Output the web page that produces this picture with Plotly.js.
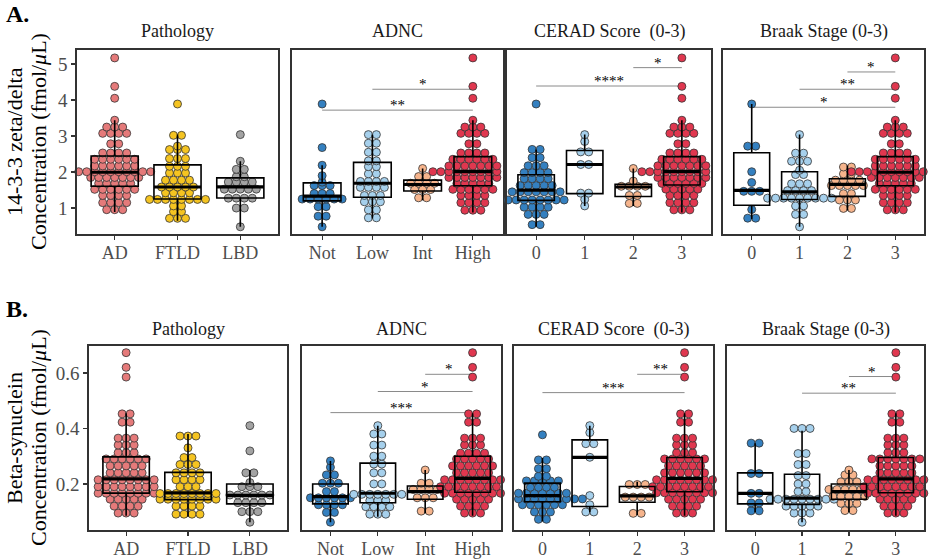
<!DOCTYPE html>
<html><head><meta charset="utf-8">
<script src="https://cdn.plot.ly/plotly-3.0.1.min.js"></script>
<style>body{margin:0;background:#fff}#chart{width:930px;height:560px}</style>
</head><body><div id="chart"></div>
<script>
// ---------- categories ----------
const pathCats = ['AD','FTLD','LBD'];
const adncCats = ['Not','Low','Int','High'];
const ceradCats = ['0','1','2','3'];
const braakCats = ['0','1','2','3'];
const panelTitles = ['Pathology','ADNC','CERAD Score\u00A0 (0-3)','Braak Stage (0-3)'];
const yTicksA = [1,2,3,4,5];
const yTickTextA = ['1','2','3','4','5'];
const yTicksB = [0.2,0.4,0.6];
const yTickTextB = ['0.2','0.4','0.6'];

// ---------- A. 14-3-3 zeta/delta (fmol/uL) ----------
const pathAD = [0.89,0.95,1.02,1.08,1.12,1.18,1.22,1.28,1.32,1.38,1.42,1.45,1.5,1.52,1.56,1.58,1.59,
 1.62,1.64,1.68,1.72,1.75,1.78,1.8,1.84,1.86,1.88,1.9,1.92,1.94,1.96,1.97,1.98,1.99,
 2.0,2.02,2.04,2.06,2.08,2.1,2.12,2.15,2.18,2.2,2.24,2.28,2.3,2.34,2.38,2.4,2.43,
 2.46,2.5,2.55,2.6,2.72,2.85,3.0,3.04,3.08,3.15,3.2,3.25,3.3,3.44,4.05,4.38,5.17];
const pathFTLD = [0.65,0.7,0.78,0.85,0.95,1.02,1.1,1.18,1.22,1.24,1.24,
 1.26,1.27,1.28,1.3,1.35,1.4,1.45,1.5,1.52,1.55,1.57,
 1.6,1.65,1.7,1.75,1.8,1.85,1.9,2.0,2.05,2.1,2.18,
 2.22,2.3,2.4,2.45,2.55,2.65,2.7,2.72,3.0,3.04,3.89];
const pathLBD = [0.48,0.95,1.05,1.2,1.27,1.28,1.35,1.45,1.5,1.55,1.58,1.6,1.65,1.7,1.75,1.8,1.84,1.9,2.0,2.15,2.3,3.04];
const adncNot = [0.48,0.7,0.85,1.0,1.08,1.2,1.22,1.24,1.25,1.27,1.3,1.36,1.4,1.45,1.55,1.65,1.7,1.72,1.9,2.19,2.68,3.89];
const adncLow = [0.71,0.75,0.9,1.0,1.1,1.18,1.25,1.3,1.35,1.4,1.5,1.55,1.6,1.65,1.68,
 1.7,1.75,1.8,1.9,2.0,2.1,2.2,2.27,2.35,2.5,2.6,2.75,2.85,3.04,3.04];
const adncInt = [1.22,1.35,1.45,1.5,1.58,1.63,1.68,1.7,1.75,1.8,1.95,2.1];
const adncHigh = [0.88,0.95,1.0,1.08,1.12,1.18,1.22,1.28,1.32,1.38,1.42,1.45,1.5,1.52,1.56,1.58,1.59,
 1.62,1.64,1.68,1.72,1.75,1.78,1.8,1.84,1.86,1.88,1.9,1.92,1.94,1.96,1.97,1.98,1.99,
 2.0,2.02,2.04,2.06,2.08,2.1,2.12,2.15,2.18,2.2,2.24,2.28,2.3,2.34,2.38,2.4,2.43,
 2.46,2.5,2.55,2.6,2.72,2.85,3.0,3.04,3.08,3.15,3.2,3.25,3.3,3.44,4.05,4.38,5.17,2.05,2.22];
const cerad0 = [0.48,0.6,0.75,0.82,0.9,0.95,1.0,1.05,1.1,1.15,1.2,
 1.22,1.24,1.25,1.26,1.28,1.3,1.38,1.42,1.45,1.47,1.48,1.5,
 1.52,1.55,1.6,1.62,1.65,1.7,1.75,1.8,1.85,1.88,1.92,
 1.95,2.0,2.05,2.1,2.2,2.25,2.35,2.45,2.63,2.63,3.89];
const cerad1 = [1.06,1.24,1.4,1.43,2.18,2.24,2.52,2.6,2.85,3.04];
const cerad2 = [1.06,1.2,1.32,1.38,1.55,1.62,1.64,1.66,1.75,2.1];
const cerad3 = [0.88,0.95,1.02,1.08,1.12,1.18,1.22,1.28,1.32,1.38,1.42,1.45,1.5,1.52,1.56,1.6,1.62,
 1.64,1.66,1.7,1.72,1.75,1.78,1.8,1.84,1.86,1.88,1.9,1.92,1.94,1.96,1.97,1.98,1.99,
 2.0,2.02,2.04,2.06,2.08,2.1,2.12,2.15,2.18,2.2,2.24,2.28,2.3,2.34,2.38,2.4,2.43,
 2.46,2.5,2.55,2.6,2.72,2.85,3.0,3.04,3.08,3.15,3.2,3.25,3.3,3.44,4.05,4.38,5.17,2.08,2.25];
const braak0 = [0.7,0.74,0.96,1.44,1.46,1.49,1.71,2.01,2.71,2.73,3.89];
const braak1 = [0.48,0.75,0.9,1.0,1.12,1.2,1.22,1.24,1.26,1.27,1.28,1.3,1.32,1.35,1.42,
 1.48,1.5,1.55,1.6,1.65,1.75,1.85,2.01,2.05,2.25,2.3,2.35,2.45,2.6,3.04];
const braak2 = [0.93,1.05,1.15,1.25,1.3,1.35,1.45,1.55,1.6,1.65,1.67,1.7,1.72,1.75,1.8,1.83,1.9,2.0,2.1,2.18];
const braak3 = [0.88,0.95,1.02,1.08,1.12,1.18,1.22,1.28,1.32,1.38,1.42,1.45,1.5,1.52,1.56,1.58,1.59,
 1.62,1.64,1.68,1.72,1.75,1.78,1.8,1.84,1.86,1.88,1.9,1.92,1.94,1.96,1.97,1.98,1.99,
 2.0,2.02,2.04,2.06,2.08,2.1,2.12,2.15,2.18,2.2,2.24,2.28,2.3,2.34,2.38,2.4,2.43,
 2.46,2.5,2.55,2.6,2.72,2.85,3.0,3.04,3.08,3.15,3.2,3.25,3.3,3.44,4.05,4.38,5.17,1.95,2.01];

// ---------- B. Beta-synuclein (fmol/uL) ----------
const bPathAD = [0.085,0.095,0.105,0.11,0.12,0.125,0.13,0.135,0.14,0.145,0.15,0.155,0.158,0.16,0.162,0.164,0.166,
 0.168,0.17,0.175,0.18,0.182,0.185,0.19,0.192,0.195,0.198,0.2,0.205,0.208,0.21,0.212,0.215,0.217,
 0.22,0.225,0.23,0.235,0.24,0.245,0.25,0.255,0.26,0.265,0.27,0.275,0.28,0.285,0.29,0.292,0.295,
 0.3,0.305,0.31,0.32,0.33,0.34,0.35,0.36,0.365,0.37,0.42,0.425,0.45,0.455,0.585,0.62,0.673];
const bPathFTLD = [0.082,0.088,0.095,0.1,0.11,0.118,0.125,0.13,0.135,0.14,0.142,
 0.145,0.148,0.15,0.152,0.155,0.156,0.158,0.16,0.162,0.164,0.166,
 0.17,0.175,0.18,0.19,0.2,0.205,0.21,0.22,0.225,0.23,0.238,
 0.245,0.25,0.26,0.27,0.28,0.29,0.3,0.33,0.365,0.375,0.38];
const bPathLBD = [0.062,0.09,0.1,0.11,0.125,0.128,0.135,0.14,0.15,0.155,0.158,0.16,0.165,0.17,0.18,0.195,0.2,0.205,0.23,0.25,0.319,0.41];
const bAdncNot = [0.062,0.09,0.105,0.115,0.125,0.128,0.135,0.14,0.145,0.15,0.152,0.156,0.16,0.165,0.18,0.195,0.2,0.21,0.225,0.24,0.26,0.283];
const bAdncLow = [0.082,0.09,0.1,0.108,0.115,0.12,0.128,0.132,0.14,0.148,0.155,0.158,0.16,0.162,0.165,
 0.168,0.17,0.19,0.21,0.23,0.25,0.268,0.275,0.29,0.31,0.33,0.35,0.37,0.39,0.41];
const bAdncInt = [0.094,0.11,0.14,0.15,0.16,0.17,0.174,0.18,0.19,0.195,0.21,0.25];
const bAdncHigh = [0.085,0.095,0.105,0.11,0.12,0.125,0.13,0.135,0.14,0.145,0.15,0.155,0.158,0.16,0.162,0.166,0.168,
 0.17,0.172,0.175,0.18,0.182,0.185,0.19,0.192,0.195,0.198,0.2,0.205,0.208,0.21,0.212,0.215,0.218,
 0.222,0.225,0.23,0.235,0.24,0.245,0.25,0.255,0.26,0.265,0.27,0.275,0.28,0.285,0.29,0.295,0.3,
 0.302,0.305,0.31,0.32,0.33,0.34,0.35,0.36,0.365,0.37,0.42,0.425,0.45,0.455,0.585,0.62,0.673,0.19,0.26];
const bCerad0 = [0.065,0.08,0.09,0.1,0.108,0.115,0.12,0.125,0.13,0.133,0.135,
 0.136,0.138,0.14,0.142,0.145,0.148,0.15,0.152,0.154,0.155,0.156,0.158,
 0.16,0.162,0.165,0.168,0.17,0.175,0.18,0.185,0.19,0.196,0.202,
 0.205,0.21,0.215,0.22,0.225,0.23,0.25,0.26,0.28,0.293,0.377];
const bCerad1 = [0.098,0.1,0.125,0.158,0.296,0.34,0.35,0.385,0.41];
const bCerad2 = [0.088,0.1,0.145,0.15,0.157,0.16,0.188,0.2,0.208];
const bCerad3 = [0.085,0.095,0.105,0.11,0.12,0.125,0.13,0.135,0.14,0.145,0.15,0.155,0.158,0.16,0.165,0.168,0.17,
 0.172,0.175,0.178,0.18,0.182,0.185,0.19,0.192,0.195,0.198,0.2,0.205,0.208,0.21,0.212,0.215,0.218,
 0.222,0.225,0.23,0.235,0.24,0.245,0.25,0.255,0.26,0.265,0.27,0.275,0.28,0.285,0.29,0.292,0.295,
 0.3,0.305,0.31,0.32,0.33,0.34,0.35,0.36,0.365,0.37,0.42,0.425,0.45,0.455,0.585,0.62,0.673,0.2,0.25];
const bBraak0 = [0.098,0.108,0.128,0.135,0.16,0.172,0.235,0.24,0.347,0.347];
const bBraak1 = [0.062,0.085,0.095,0.105,0.11,0.115,0.12,0.125,0.13,0.135,0.138,0.14,0.142,0.145,0.147,
 0.149,0.15,0.155,0.165,0.18,0.19,0.21,0.22,0.24,0.26,0.28,0.3,0.319,0.39,0.392,0.41];
const bBraak2 = [0.098,0.11,0.12,0.13,0.14,0.145,0.15,0.155,0.16,0.165,0.17,0.174,0.178,0.18,0.185,0.19,0.2,0.205,0.215,0.225,0.24,0.25];
const bBraak3 = [0.085,0.095,0.105,0.11,0.12,0.125,0.13,0.135,0.14,0.145,0.15,0.155,0.158,0.16,0.162,0.164,0.166,
 0.168,0.17,0.175,0.18,0.182,0.185,0.19,0.192,0.195,0.198,0.2,0.205,0.208,0.21,0.212,0.215,0.217,
 0.22,0.225,0.23,0.235,0.24,0.245,0.25,0.255,0.26,0.265,0.27,0.275,0.28,0.285,0.29,0.292,0.295,
 0.3,0.305,0.31,0.32,0.33,0.34,0.35,0.36,0.365,0.37,0.42,0.425,0.45,0.455,0.585,0.62,0.673,0.18,0.28];

// ---------- significance brackets: [fromGroup, toGroup, level, label] ----------
const sigA = [[], [[1,3,4.30,'*'],[0,3,3.72,'**']], [[2,3,4.90,'*'],[0,3,4.39,'****']], [[2,3,4.78,'*'],[1,3,4.30,'**'],[0,3,3.80,'*']]];
const sigB = [[], [[2,3,0.595,'*'],[1,3,0.533,'*'],[0,3,0.457,'***']], [[2,3,0.595,'**'],[0,3,0.529,'***']], [[2,3,0.587,'*'],[1,3,0.527,'**']]];

// ---------- styling ----------
const pathColors = ['#E57A7A','#F5C421','#A3A3A3'];
const stageColors = ['#3480C0','#A6D0EC','#F6B48C','#E0374F'];
const W = 930, H = 560;
const FONT = 'Liberation Serif, Times New Roman, serif';
const catsList = [pathCats, adncCats, ceradCats, braakCats];
const colorsList = [pathColors, stageColors, stageColors, stageColors];

const rows = [
  {groups:[[pathAD,pathFTLD,pathLBD],[adncNot,adncLow,adncInt,adncHigh],[cerad0,cerad1,cerad2,cerad3],[braak0,braak1,braak2,braak3]],
   yRange:[0.28,5.39], bw:0.16, ticks:yTicksA, tickText:yTickTextA,
   cols:[[77,278],[292,503],[507,711],[723,924]], top:50, bottom:234, titleY:31, sig:sigA,
   label:'A.', labelY:14, yTitle:['14-3-3 zeta/delta','Concentration (fmol/<i>μ</i>L)']},
  {groups:[[bPathAD,bPathFTLD,bPathLBD],[bAdncNot,bAdncLow,bAdncInt,bAdncHigh],[bCerad0,bCerad1,bCerad2,bCerad3],[bBraak0,bBraak1,bBraak2,bBraak3]],
   yRange:[0.034,0.697], bw:0.021, ticks:yTicksB, tickText:yTickTextB,
   cols:[[89,287],[302,501],[514,713],[727,924]], top:346, bottom:530, titleY:329, sig:sigB,
   label:'B.', labelY:309, yTitle:['Beta-synuclein','Concentration (fmol/<i>μ</i>L)']}
];

const DOT = 8; // px
function median(v){const s=v.slice().sort((a,b)=>a-b);const n=s.length;return n%2?s[(n-1)/2]:(s[n/2-1]+s[n/2])/2;}
function dots(vals, idx, bw, dx){
  const s = vals.slice().sort((a,b)=>a-b);
  const xs=[], ys=[]; let i=0;
  while(i<s.length){
    const start=s[i]; let j=i;
    while(j<s.length && s[j] < start+bw) j++;
    const n=j-i, c=(s[i]+s[j-1])/2;
    for(let k=0;k<n;k++){xs.push(idx+(k-(n-1)/2)*dx); ys.push(c);}
    i=j;
  }
  return {xs, ys};
}

const traces=[], shapes=[], annotations=[];
const layout = {width:W, height:H, margin:{l:0,r:0,t:0,b:0}, paper_bgcolor:'#fff', plot_bgcolor:'#fff',
  showlegend:false, font:{family:FONT, color:'#000'}};

rows.forEach((row, r)=>{
  row.groups.forEach((groups, c)=>{
    const p = r*4+c+1, o = p+8;
    const cats = catsList[c], colors = colorsList[c];
    const [L,R] = row.cols[c];
    const xr = [-0.6, cats.length-1+0.6];
    const pxPerUnit = (R-L)/(xr[1]-xr[0]);
    const dx = DOT/pxPerUnit;
    const xd = [L/W, R/W], yd = [1-row.bottom/H, 1-row.top/H];
    const sfx = n => n===1?'':String(n);
    layout['xaxis'+sfx(p)] = {domain:xd, range:xr, type:'linear', anchor:'y'+sfx(p), tickmode:'array',
      tickvals:cats.map((_,i)=>i), ticktext:cats, showline:true, mirror:true, linecolor:'#333', linewidth:1.6,
      ticks:'outside', ticklen:4, tickwidth:1.2, tickcolor:'#333', showgrid:false, zeroline:false,
      ticklabelstandoff:-2,
      tickfont:{family:FONT, size:18, color:'#4d4d4d'}, fixedrange:true};
    layout['yaxis'+sfx(p)] = {domain:yd, range:row.yRange, type:'linear', anchor:'x'+sfx(p),
      showline:true, mirror:true, linecolor:'#333', linewidth:1.6, showgrid:false, zeroline:false,
      tickmode:'array', tickvals:row.ticks, ticktext:row.tickText,
      ticks: c===0?'outside':'', ticklen:4, tickwidth:1.2, tickcolor:'#333', showticklabels:c===0,
      tickfont:{family:FONT, size:19, color:'#4d4d4d'}, fixedrange:true};
    layout['xaxis'+o] = {domain:xd, range:xr, type:'linear', overlaying:'x'+sfx(p), anchor:'y'+o, visible:false, fixedrange:true};
    layout['yaxis'+o] = {domain:yd, range:row.yRange, type:'linear', overlaying:'y'+sfx(p), anchor:'x'+o, visible:false, fixedrange:true};

    groups.forEach((vals, i)=>{
      const d = dots(vals, i, row.bw, dx);
      traces.push({type:'scatter', mode:'markers', x:d.xs, y:d.ys, xaxis:'x'+sfx(p), yaxis:'y'+sfx(p),
        marker:{size:DOT, color:colors[i], line:{color:'#333', width:0.8}}, hoverinfo:'y', cliponaxis:false});
      traces.push({type:'box', x0:i, y:vals, xaxis:'x'+o, yaxis:'y'+o, width:0.75, boxpoints:'outliers', jitter:0,
        marker:{opacity:0, size:1, color:'rgba(0,0,0,0)', outliercolor:'rgba(0,0,0,0)'},
        fillcolor:'rgba(0,0,0,0)', line:{color:'#000', width:1.6}, whiskerwidth:0, hoverinfo:'skip'});
      const m = median(vals);
      shapes.push({type:'line', xref:'x'+o, yref:'y'+o, x0:i-0.375, x1:i+0.375, y0:m, y1:m,
        line:{color:'#000', width:3.2}, layer:'above'});
    });

    row.sig[c].forEach(s=>{
      shapes.push({type:'line', xref:'x'+sfx(p), yref:'y'+sfx(p), x0:s[0], x1:s[1], y0:s[2], y1:s[2],
        line:{color:'#8a8a8a', width:1}, layer:'below'});
      annotations.push({xref:'x'+sfx(p), yref:'y'+sfx(p), x:(s[0]+s[1])/2, y:s[2], text:s[3], showarrow:false,
        yanchor:'bottom', yshift:-5, font:{family:FONT, size:15, color:'#000'}});
    });

    annotations.push({xref:'paper', yref:'paper', x:(L+R)/2/W, y:1-row.titleY/H, text:panelTitles[c],
      showarrow:false, xanchor:'center', yanchor:'middle', font:{family:FONT, size:18, color:'#1a1a1a'}});
  });
  const yc = 1-(row.top+row.bottom)/2/H;
  annotations.push({xref:'paper', yref:'paper', x:14/W, y:yc, text:row.yTitle[0], textangle:-90, showarrow:false,
    xanchor:'center', yanchor:'middle', font:{family:FONT, size:22, color:'#000'}});
  annotations.push({xref:'paper', yref:'paper', x:38/W, y:yc, text:row.yTitle[1], textangle:-90, showarrow:false,
    xanchor:'center', yanchor:'middle', font:{family:FONT, size:22, color:'#000'}});
  annotations.push({xref:'paper', yref:'paper', x:4/W, y:1-row.labelY/H, text:'<b>'+row.label+'</b>', showarrow:false,
    xanchor:'left', yanchor:'middle', font:{family:FONT, size:24, color:'#000'}});
});

layout.shapes = shapes;
layout.annotations = annotations;
Plotly.newPlot('chart', traces, layout, {staticPlot:true, displayModeBar:false});
</script></body></html>
